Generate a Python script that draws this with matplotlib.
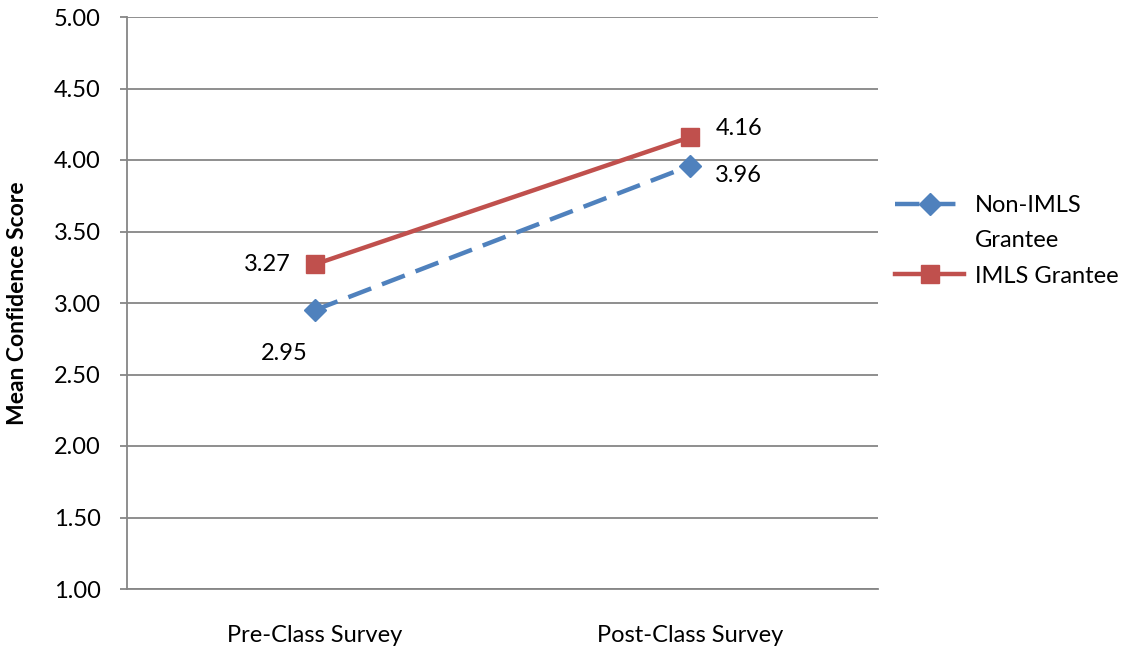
import matplotlib
matplotlib.use("Agg")
import matplotlib.pyplot as plt

# survey means by group
surveys = ["Pre-Class Survey", "Post-Class Survey"]
non_imls = [2.95, 3.96]
imls = [3.27, 4.16]
yticks = [1.00, 1.50, 2.00, 2.50, 3.00, 3.50, 4.00, 4.50, 5.00]

BLUE = "#4F81BD"
RED = "#C0504D"
GRID = "#868686"
FS = 17

plt.rcParams["font.family"] = ["Lato", "DejaVu Sans"]

fig = plt.figure(figsize=(11.31, 6.5), dpi=100)
ax = fig.add_axes([127 / 1131, 1 - 589 / 650, (878 - 127) / 1131, (589 - 17) / 650])

x = range(len(surveys))
ax.plot(x, non_imls, color=BLUE, lw=3.2, ls=(0, (5.5, 2.6)), marker="D",
        ms=11, mec=BLUE, mfc=BLUE, label="Non-IMLS", zorder=3)
ax.plot(x, imls, color=RED, lw=3.2, marker="s", ms=13, mec=RED, mfc=RED,
        label="IMLS Grantee", zorder=4)

# value labels
ax.annotate(f"{imls[0]:.2f}", (0, imls[0]), xytext=(-17, 0), textcoords="offset points",
            ha="right", va="center", fontsize=FS)
ax.annotate(f"{non_imls[0]:.2f}", (0, non_imls[0]), xytext=(-22, -31), textcoords="offset points",
            ha="center", va="center", fontsize=FS)
ax.annotate(f"{imls[1]:.2f}", (1, imls[1]), xytext=(18, 6), textcoords="offset points",
            ha="left", va="center", fontsize=FS)
ax.annotate(f"{non_imls[1]:.2f}", (1, non_imls[1]), xytext=(18, -7), textcoords="offset points",
            ha="left", va="center", fontsize=FS)

ax.set_xlim(-0.5, 1.5)
ax.set_ylim(1, 5)
ax.set_yticks(yticks)
ax.set_yticklabels([f"{v:.2f}" for v in yticks], fontsize=FS)
ax.set_xticks(list(x))
ax.set_xticklabels(surveys, fontsize=FS)
ax.tick_params(axis="x", length=0, pad=26)
ax.tick_params(axis="y", length=5, width=1.3, color=GRID, pad=14)
ax.grid(axis="y", color=GRID, lw=1.3)
ax.set_axisbelow(True)
for side in ("top", "right"):
    ax.spines[side].set_visible(False)
for side in ("left", "bottom"):
    ax.spines[side].set_color(GRID)
    ax.spines[side].set_linewidth(1.3)

ax.set_ylabel("Mean Confidence Score", fontsize=16.5, fontweight="bold")
ax.yaxis.set_label_coords(-99 / 751, 0.5)

leg = fig.legend(loc="upper left", bbox_to_anchor=(886 / 1131, 1 - 186 / 650), frameon=False,
                 fontsize=FS, handlelength=2.9, handletextpad=0.45, labelspacing=2.08,
                 borderaxespad=0)

# second line of the first legend label, set below "Non-IMLS"
fig.canvas.draw()
bb = leg.get_texts()[0].get_window_extent()
fig.text(bb.x0 / 1131, (bb.y0 - 35) / 650, "Grantee", fontsize=FS, ha="left", va="bottom")

fig.savefig("out.png", dpi=100, facecolor="white")
